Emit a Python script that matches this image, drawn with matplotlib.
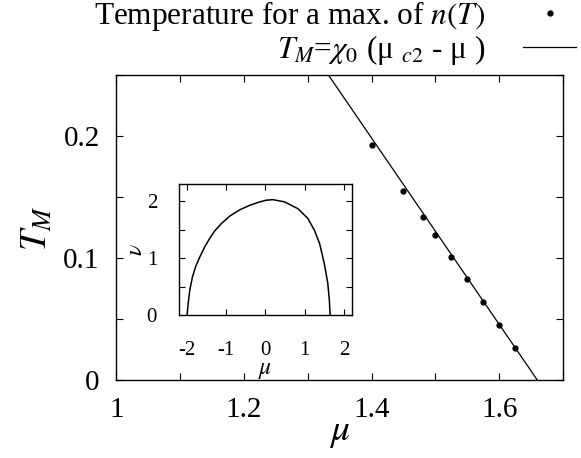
import matplotlib
matplotlib.use('Agg')
import matplotlib.pyplot as plt
from matplotlib.ticker import MultipleLocator, FuncFormatter

plt.rcParams['font.family'] = 'Liberation Serif'
plt.rcParams['mathtext.fontset'] = 'stix'
plt.rcParams['axes.unicode_minus'] = False

# temperature at the maximum of n(T)
mu_pts = [1.40, 1.45, 1.48, 1.50, 1.525, 1.55, 1.575, 1.60, 1.625]
tm_pts = [0.193, 0.155, 0.134, 0.119, 0.101, 0.083, 0.0645, 0.0456, 0.0265]

# fitted line T_M = chi0 (mu_c2 - mu)
line_mu = [1.30, 1.66]
line_tm = [0.275, 0.0]

# inset: nu vs mu
inset_mu = [-2.0, -1.974, -1.932, -1.864, -1.779, -1.677, -1.55, -1.422, -1.295,
            -1.125, -0.913, -0.659, -0.405, -0.15, 0.02, 0.19, 0.49, 0.83,
            1.08, 1.25, 1.38, 1.50, 1.59, 1.63, 1.65]
inset_nu = [0.0, 0.20, 0.44, 0.67, 0.86, 1.02, 1.20, 1.35, 1.48,
            1.61, 1.74, 1.85, 1.93, 1.99, 2.02, 2.03, 1.99, 1.87,
            1.70, 1.49, 1.26, 0.91, 0.56, 0.26, 0.0]

fig = plt.figure(figsize=(5.81, 4.58), dpi=100)
ax = fig.add_axes([0.2002, 0.1697, 0.7688, 0.6659])

ax.plot(mu_pts, tm_pts, 'o', color='black', markersize=3.5,
        label=r'Temperature for a max. of $\mathit{n(T)}$')
ax.plot(line_mu, line_tm, '-', color='black', linewidth=0.9,
        label=r'$T_M$=$\chi_{\mathit{0}}$ (μ $_{\mathit{c2}}$ - μ )')

ax.set_xlim(1.0, 1.7)
ax.set_ylim(0, 0.25)
ax.xaxis.set_major_locator(MultipleLocator(0.2))
ax.xaxis.set_minor_locator(MultipleLocator(0.1))
ax.yaxis.set_major_locator(MultipleLocator(0.1))
ax.yaxis.set_minor_locator(MultipleLocator(0.05))
ax.xaxis.set_major_formatter(FuncFormatter(lambda v, p: '%g' % round(v, 2)))
ax.yaxis.set_major_formatter(FuncFormatter(lambda v, p: '%g' % round(v, 2)))
ax.tick_params(which='both', direction='in', top=True, right=True,
               length=5, width=0.8, labelsize=21)
ax.tick_params(axis='x', which='major', pad=12)
ax.tick_params(axis='y', which='major', pad=12)
for s in ax.spines.values():
    s.set_linewidth(1.0)
ax.set_xlabel(r'$\mu$', fontsize=27, labelpad=-5)
ax.set_ylabel(r'$T_M$', fontsize=27, labelpad=6)

leg = ax.legend(loc='upper right', bbox_to_anchor=(0.997, 1.01),
                bbox_transform=fig.transFigure, frameon=False,
                markerfirst=False, numpoints=1, fontsize=22.5,
                handlelength=1.7, handletextpad=1.2, labelspacing=0.0,
                borderpad=0.1, borderaxespad=0)

# inset
ins = fig.add_axes([0.3086, 0.3122, 0.2967, 0.2854])
ins.plot(inset_mu, inset_nu, '-', color='black', linewidth=1.1)
ins.set_xlim(-2.2, 2.2)
ins.set_ylim(0, 2.3)
ins.xaxis.set_major_locator(MultipleLocator(1))
ins.yaxis.set_major_locator(MultipleLocator(1))
ins.yaxis.set_minor_locator(MultipleLocator(0.5))
ins.tick_params(which='both', direction='in', top=True, right=True,
                length=4, width=0.8, labelsize=15)
ins.tick_params(axis='x', which='major', pad=19)
ins.tick_params(axis='y', which='major', pad=16)
for s in ins.spines.values():
    s.set_linewidth(1.0)
ins.set_xlabel(r'$\mu$', fontsize=17, labelpad=0)
ins.set_ylabel(r'$\nu$', fontsize=17, labelpad=0)

fig.savefig('out.png', dpi=100)
